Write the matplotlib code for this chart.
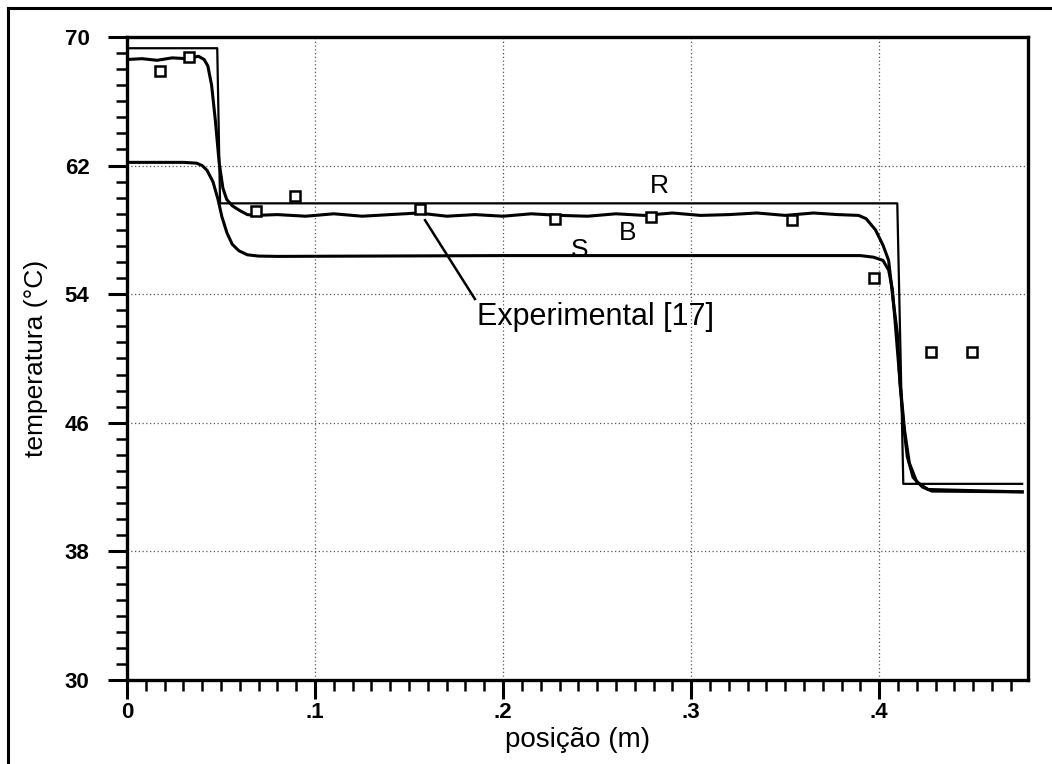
import numpy as np
import matplotlib
matplotlib.use("Agg")
import matplotlib.pyplot as plt
from matplotlib.ticker import MultipleLocator, FixedLocator, FuncFormatter
from matplotlib.lines import Line2D

plt.rcParams['font.family'] = ['Liberation Sans', 'DejaVu Sans']

# curve R (sharp step)
r_x = [0.0, 0.048, 0.0495, 0.4096, 0.4128, 0.476]
r_y = [69.3, 69.3, 59.65, 59.65, 42.2, 42.2]

# curve B (wavy)
b_x = [0.0, 0.008, 0.016, 0.024, 0.032, 0.038, 0.041, 0.043, 0.045, 0.047, 0.049,
       0.051, 0.053, 0.056, 0.060, 0.064, 0.068, 0.080, 0.095, 0.110, 0.125, 0.140,
       0.155, 0.170, 0.185, 0.200, 0.215, 0.230, 0.245, 0.260, 0.275, 0.290, 0.305,
       0.320, 0.335, 0.350, 0.365, 0.378, 0.389, 0.393, 0.398, 0.402, 0.405, 0.4074,
       0.4096, 0.411, 0.4128, 0.4149, 0.418, 0.423, 0.428, 0.476]
b_y = [68.6, 68.65, 68.55, 68.7, 68.65, 68.8, 68.6, 68.2, 67.0, 64.8, 62.2,
       60.6, 59.9, 59.5, 59.2, 58.95, 58.9, 58.95, 58.85, 59.0, 58.85, 58.95,
       59.05, 58.85, 58.95, 58.85, 59.0, 58.9, 58.85, 59.0, 58.9, 59.05, 58.9,
       58.95, 59.05, 58.9, 59.05, 58.95, 58.9, 58.7, 58.0, 57.05, 56.1, 53.6,
       51.6, 48.5, 46.0, 43.9, 42.6, 42.0, 41.75, 41.7]

# curve S (smooth)
s_x = [0.0, 0.030, 0.0370, 0.0400, 0.0426, 0.0457, 0.0484, 0.0505, 0.0532, 0.0560,
       0.0595, 0.0640, 0.0700, 0.0800, 0.20, 0.39, 0.397, 0.402, 0.405, 0.407, 0.4085,
       0.411, 0.4135, 0.416, 0.420, 0.426, 0.476]
s_y = [62.2, 62.2, 62.15, 62.0, 61.7, 61.0, 59.9, 58.8, 57.8, 57.1,
       56.7, 56.45, 56.37, 56.35, 56.4, 56.4, 56.3, 56.1, 55.5, 54.3, 52.2,
       48.6, 45.5, 43.5, 42.3, 41.85, 41.7]

# experimental points [17]
exp_x = [0.0176, 0.033, 0.0686, 0.0894, 0.1559, 0.2277, 0.2787, 0.3537, 0.397, 0.4277, 0.4495]
exp_y = [67.9, 68.75, 59.2, 60.1, 59.3, 58.7, 58.8, 58.6, 55.0, 50.4, 50.4]

y_ticks = [30, 38, 46, 54, 62, 70]

fig = plt.figure(figsize=(10.52, 7.64), dpi=100)
ax = fig.add_axes([0.1207, 0.110, 0.977 - 0.1207, 0.9516 - 0.110])

ax.plot(r_x, r_y, color='black', lw=1.6)
ax.plot(b_x, b_y, color='black', lw=2.2)
ax.plot(s_x, s_y, color='black', lw=2.2)
ax.plot(exp_x, exp_y, linestyle='none', marker='s', markersize=7,
        markerfacecolor='white', markeredgecolor='black', markeredgewidth=1.8)

ax.set_xlim(0, 0.479)
ax.set_ylim(30, 70)
ax.xaxis.set_major_locator(MultipleLocator(0.1))
ax.xaxis.set_minor_locator(MultipleLocator(0.01))
ax.yaxis.set_major_locator(FixedLocator(y_ticks))
ax.yaxis.set_minor_locator(MultipleLocator(1))
ax.xaxis.set_major_formatter(FuncFormatter(lambda v, p: '0' if abs(v) < 1e-9 else ('%.1f' % v)[1:]))

ax.tick_params(axis='both', which='major', direction='out', length=14, width=2.2,
               labelsize=16)
ax.tick_params(axis='x', which='major', pad=2)
ax.tick_params(axis='y', which='major', pad=13)
ax.tick_params(axis='both', which='minor', direction='out', length=8, width=1.8)
for lab in ax.get_xticklabels() + ax.get_yticklabels():
    lab.set_fontweight('bold')

for sp in ax.spines.values():
    sp.set_linewidth(2.4)

ax.grid(True, which='major', color='#555555', linestyle=(0, (1, 2)), linewidth=0.9)

ax.set_xlabel('posição (m)', fontsize=20, labelpad=3)
ax.set_ylabel('temperatura (°C)', fontsize=19, labelpad=12)

ax.text(0.283, 60.7, 'R', fontsize=19, ha='center', va='center')
ax.text(0.266, 57.8, 'B', fontsize=19, ha='center', va='center')
ax.text(0.2405, 56.75, 'S', fontsize=19, ha='center', va='center')
ax.text(0.186, 52.6, 'Experimental [17]', fontsize=22, ha='left', va='center')
ax.plot([0.1585, 0.185], [58.6, 53.7], color='black', lw=1.8)

# outer frame (partially visible)
fig.add_artist(Line2D([0.008, 0.008], [0.0, 0.99], transform=fig.transFigure, color='black', lw=2.2))
fig.add_artist(Line2D([0.008, 1.0], [0.989, 0.989], transform=fig.transFigure, color='black', lw=2.2))

fig.savefig('out.png', dpi=100)
